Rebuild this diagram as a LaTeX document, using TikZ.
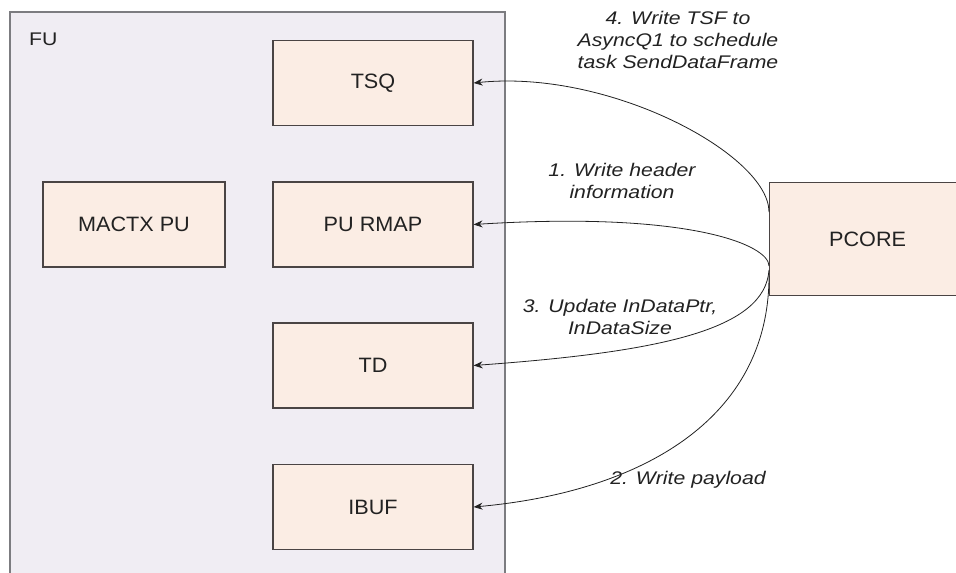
\documentclass[tikz,border=0pt]{standalone}
\usepackage{fontspec}
\setmainfont{Liberation Sans}
\newfontfamily\boxfont[FakeStretch=1.04]{Liberation Sans}
\newfontfamily\lblfont[FakeStretch=1.16]{Liberation Sans}
\usetikzlibrary{arrows.meta}
\definecolor{fuback}{HTML}{F0EDF3}
\definecolor{fuline}{HTML}{7C7C80}
\definecolor{blockfill}{HTML}{FBEDE4}
\definecolor{blockline}{HTML}{4A4444}
\definecolor{ink}{HTML}{222222}
\tikzset{
  block/.style={draw=blockline, line width=1.2pt, fill=blockfill,
    minimum width=200pt, minimum height=85pt, inner sep=0pt,
    font=\boxfont\fontsize{20.8}{24}\selectfont, text=ink},
  flow/.style={draw=ink, line width=0.8pt, -{Stealth[length=9pt,width=7pt]}},
  steplabel/.style={align=center, inner sep=0pt, text=ink,
    font=\lblfont\itshape\fontsize{18.3}{22}\selectfont}
}
\begin{document}
\begin{tikzpicture}[x=1pt,y=-1pt]
  \clip (0,0) rectangle (956,573);
  \fill[white] (0,0) rectangle (956,573);

  % functional unit container
  \draw[fuline, line width=2pt, fill=fuback] (10,12) rectangle (505,600);
  \node[anchor=west, inner sep=0pt, text=ink,
        font=\lblfont\fontsize{18.3}{22}\selectfont] (fu) at (29,39) {FU};

  % blocks inside FU
  \node[block] (tsq)   at (373,83)    {TSQ};
  \node[block] (rmap)  at (373,224.5) {PU RMAP};
  \node[block, minimum width=182pt] (mactx) at (134,224.5) {MACTX PU};
  \node[block] (td)    at (373,365.5) {TD};
  \node[block] (ibuf)  at (373,507)   {IBUF};

  % processor core
  \node[block, anchor=north west, minimum width=196pt, minimum height=113pt]
    (pcore) at (769,182) {PCORE};

  % attachment points along the left side of PCORE
  \coordinate (s4) at (769,212);
  \coordinate (s1) at (769,266);
  \coordinate (s3) at (769,270);
  \coordinate (s2) at (769,276);

  % write operations
  \draw[flow] (s4) .. controls (769,155) and (610,69) .. (tsq.east);
  \draw[flow] (s1) .. controls (769,245) and (690,211) .. (rmap.east);
  \draw[flow] (s3) .. controls (765,330) and (660,352) .. (td.east);
  \draw[flow] (s2) .. controls (769,420) and (640,492) .. (ibuf.east);

  % step labels
  \node[steplabel] (l4) at (678,40)
    {4. Write TSF to\\AsyncQ1 to schedule\\task SendDataFrame};
  \node[steplabel] (l1) at (622,181) {1. Write header\\information};
  \node[steplabel] (l3) at (620,317) {3. Update InDataPtr,\\InDataSize};
  \node[steplabel] (l2) at (688,480) {2. Write payload};
\end{tikzpicture}
\end{document}
